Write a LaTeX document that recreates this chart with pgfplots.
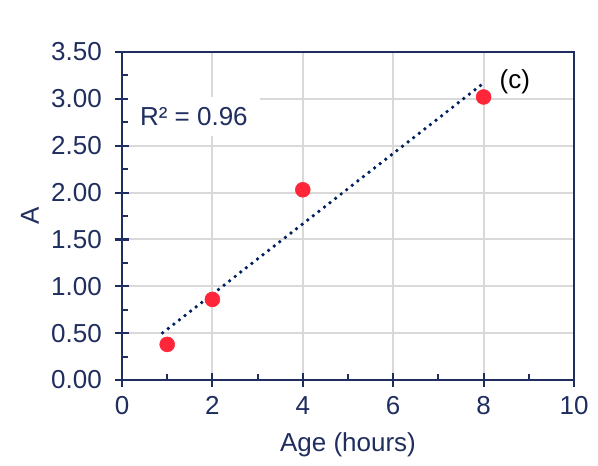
\documentclass[border=0pt]{standalone}
\usepackage{pgfplots}
\pgfplotsset{compat=1.18}
\usepackage{fontspec}
\setmainfont{Liberation Sans}

\definecolor{navytext}{RGB}{31,45,95}
\definecolor{gridgray}{RGB}{217,217,217}
\definecolor{markred}{RGB}{255,38,58}
\definecolor{trendblue}{RGB}{0,32,96}

\begin{document}
\fontsize{19.5pt}{23pt}\selectfont
\begin{tikzpicture}
\path[use as bounding box] (0,0) rectangle (448.5pt,348.75pt);
\begin{axis}[
  at={(91.5pt,63.75pt)}, anchor=south west,
  scale only axis,
  width=339pt, height=246pt,
  xmin=0, xmax=10, ymin=0, ymax=3.5,
  xtick={0,2,...,10},
  ytick={0,0.5,...,3.5},
  minor x tick num=1,
  minor y tick num=1,
  xtick pos=left, ytick pos=left,
  tick align=center,
  major tick length=11pt,
  minor tick length=4.5pt,
  minor x tick style={yshift=2.25pt},
  minor y tick style={xshift=2.25pt},
  major grid style={gridgray, line width=1.5pt},
  xmajorgrids, ymajorgrids,
  axis line style={navytext, line width=1.6pt},
  every tick/.style={navytext, line width=1.6pt},
  tick label style={font=\fontsize{19.5pt}{23pt}\selectfont, text=navytext},
  /pgf/number format/assume math mode=true,
  yticklabel style={xshift=-3pt, /pgf/number format/.cd, fixed, fixed zerofill, precision=2},
  xticklabel style={/pgf/number format/.cd, fixed, precision=0},
  every axis x label/.style={at={(rel axis cs:0.5,0)}, anchor=center, yshift=-48.75pt, text=navytext},
  every axis y label/.style={at={(rel axis cs:0,0.5)}, anchor=center, xshift=-69pt, rotate=90, text=navytext},
  xlabel={Age (hours)},
  ylabel={A},
  clip=false,
]
% linear trendline y = 0.3754x + 0.165
\addplot[trendblue, line width=2.8pt, line cap=round, dash pattern=on 0pt off 5.3pt]
  coordinates {(0.9,0.503) (8,3.168)};
% measured absorbance
\addplot[only marks, mark=*, mark size=5.6pt, color=markred, mark options={fill=markred, draw=markred}]
  coordinates {(1,0.38) (2,0.86) (4,2.03) (8,3.02)};
\node[fill=white, minimum width=99pt, minimum height=29pt, inner sep=0pt, text=navytext]
  at (axis cs:1.59,2.81) {R² = 0.96};
\node[text=black] at (axis cs:8.69,3.18) {(c)};
\end{axis}
\end{tikzpicture}
\end{document}
